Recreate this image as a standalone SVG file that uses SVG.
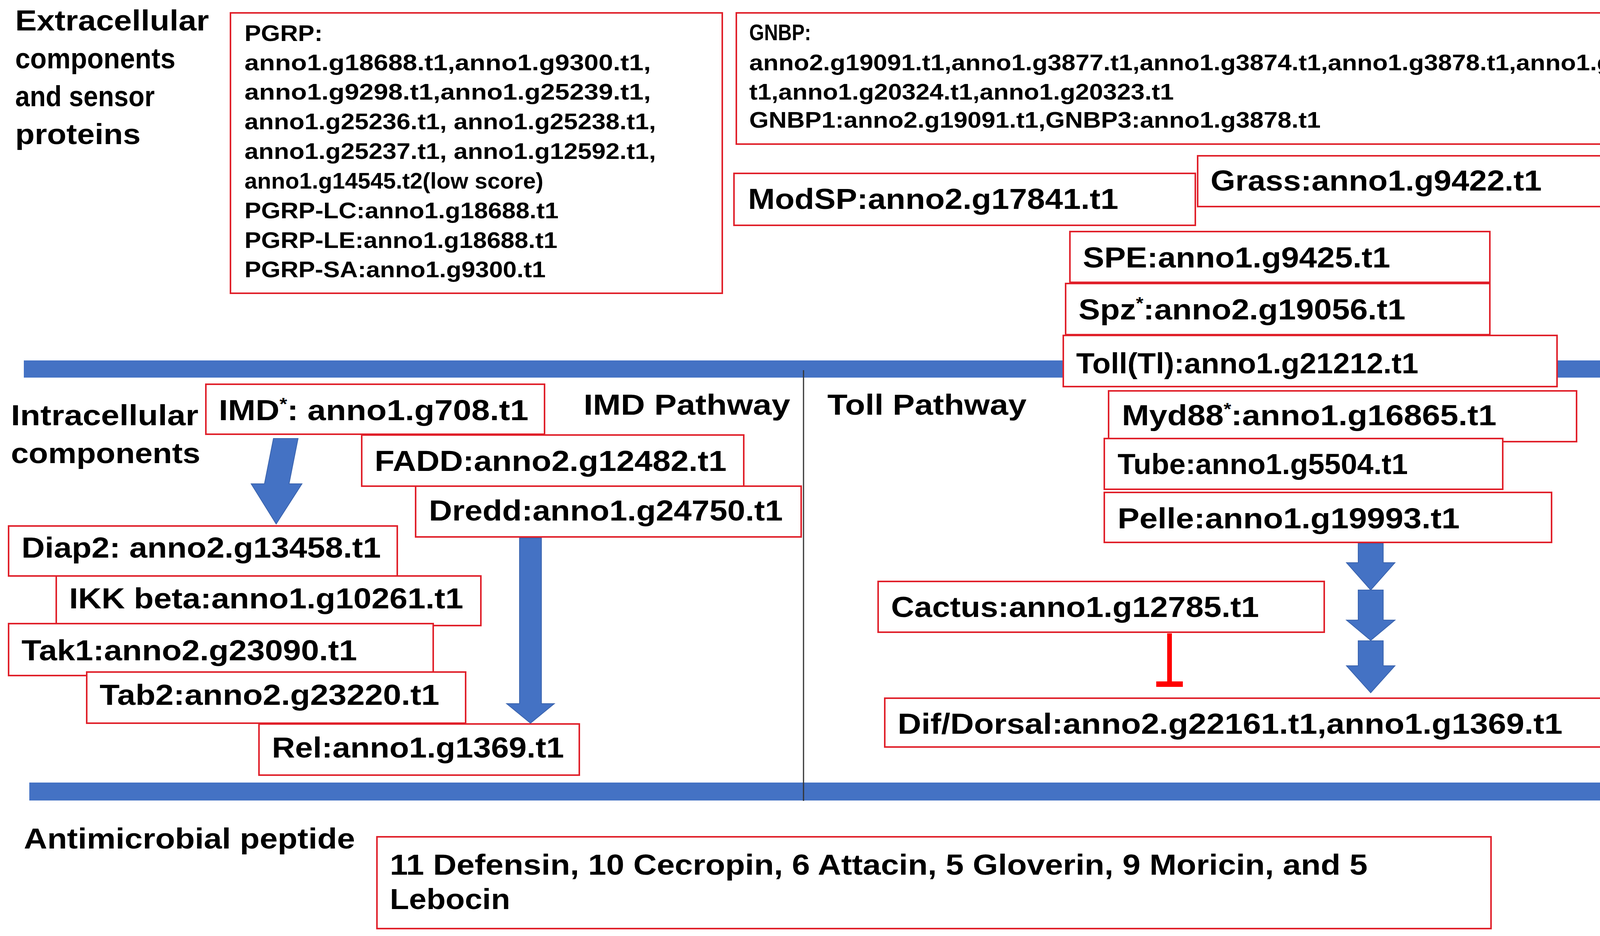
<svg xmlns="http://www.w3.org/2000/svg" width="4346" height="2397" viewBox="0 0 4346 2397">
<style>
text{font-family:"Liberation Sans",Arial,sans-serif;font-weight:700;fill:#000}
.b{font-size:74px}
.s{font-size:58px;font-weight:700}
.box{fill:#fff;stroke:#e0202a;stroke-width:4}
.arr{fill:#4472C4;stroke:#3a63ad;stroke-width:2}
</style>
<rect width="4346" height="2397" fill="#fff"/>
<g id="bars">
<rect x="61" y="923" width="4236" height="44" fill="#4472C4"/>
<rect x="75" y="2004" width="4235" height="46" fill="#4472C4"/>
<line x1="2057" y1="948" x2="2057" y2="2051" stroke="#333" stroke-width="3"/>
</g>
<g id="labels">
<text class="b" x="39" y="78" textLength="496" lengthAdjust="spacingAndGlyphs">Extracellular</text>
<text class="b" x="39" y="175" textLength="410" lengthAdjust="spacingAndGlyphs">components</text>
<text class="b" x="39" y="272" textLength="357" lengthAdjust="spacingAndGlyphs">and sensor</text>
<text class="b" x="39" y="369" textLength="321" lengthAdjust="spacingAndGlyphs">proteins</text>
<text class="b" x="28" y="1089" textLength="480" lengthAdjust="spacingAndGlyphs">Intracellular</text>
<text class="b" x="28" y="1186" textLength="485" lengthAdjust="spacingAndGlyphs">components</text>
<text class="b" x="1494" y="1062" textLength="529" lengthAdjust="spacingAndGlyphs">IMD Pathway</text>
<text class="b" x="2118" y="1062" textLength="510" lengthAdjust="spacingAndGlyphs">Toll Pathway</text>
<text class="b" x="61" y="2173" textLength="848" lengthAdjust="spacingAndGlyphs">Antimicrobial peptide</text>
</g>
<g id="pgrp">
<rect class="box" x="590" y="33" width="1259" height="718"/>
<text class="s" x="626" y="105" textLength="200" lengthAdjust="spacingAndGlyphs">PGRP:</text>
<text class="s" x="626" y="180" textLength="1040" lengthAdjust="spacingAndGlyphs">anno1.g18688.t1,anno1.g9300.t1,</text>
<text class="s" x="626" y="255" textLength="1040" lengthAdjust="spacingAndGlyphs">anno1.g9298.t1,anno1.g25239.t1,</text>
<text class="s" x="626" y="331" textLength="1053" lengthAdjust="spacingAndGlyphs">anno1.g25236.t1, anno1.g25238.t1,</text>
<text class="s" x="626" y="407" textLength="1053" lengthAdjust="spacingAndGlyphs">anno1.g25237.t1, anno1.g12592.t1,</text>
<text class="s" x="626" y="483" textLength="765" lengthAdjust="spacingAndGlyphs">anno1.g14545.t2(low score)</text>
<text class="s" x="626" y="559" textLength="804" lengthAdjust="spacingAndGlyphs">PGRP-LC:anno1.g18688.t1</text>
<text class="s" x="626" y="635" textLength="801" lengthAdjust="spacingAndGlyphs">PGRP-LE:anno1.g18688.t1</text>
<text class="s" x="626" y="710" textLength="771" lengthAdjust="spacingAndGlyphs">PGRP-SA:anno1.g9300.t1</text>
</g>
<g id="gnbp">
<rect class="box" x="1885" y="33" width="2439" height="336"/>
<text class="s" x="1918" y="103" textLength="158" lengthAdjust="spacingAndGlyphs">GNBP:</text>
<text class="s" x="1918" y="180" textLength="2370" lengthAdjust="spacingAndGlyphs">anno2.g19091.t1,anno1.g3877.t1,anno1.g3874.t1,anno1.g3878.t1,anno1.g3876.</text>
<text class="s" x="1918" y="255" textLength="1087" lengthAdjust="spacingAndGlyphs">t1,anno1.g20324.t1,anno1.g20323.t1</text>
<text class="s" x="1918" y="327" textLength="1463" lengthAdjust="spacingAndGlyphs">GNBP1:anno2.g19091.t1,GNBP3:anno1.g3878.t1</text>
</g>
<g id="modsp"><rect class="box" x="1879" y="444" width="1181" height="133"/><text class="b" x="1915" y="535" textLength="948" lengthAdjust="spacingAndGlyphs">ModSP:anno2.g17841.t1</text></g>
<g id="grass"><rect class="box" x="3066" y="399" width="1134" height="130"/><text class="b" x="3099" y="488" textLength="848" lengthAdjust="spacingAndGlyphs">Grass:anno1.g9422.t1</text></g>
<g id="spe"><rect class="box" x="2739" y="593" width="1075" height="130"/><text class="b" x="2772" y="685" textLength="787" lengthAdjust="spacingAndGlyphs">SPE:anno1.g9425.t1</text></g>
<g id="spz"><rect class="box" x="2728" y="726" width="1086" height="131"/><text class="b" x="2761" y="818" textLength="837" lengthAdjust="spacingAndGlyphs">Spz<tspan font-size="44" dy="-26">*</tspan><tspan dy="26">:anno2.g19056.t1</tspan></text></g>
<g id="toll"><rect class="box" x="2722" y="859" width="1264" height="131"/><text class="b" x="2755" y="956" textLength="876" lengthAdjust="spacingAndGlyphs">Toll(Tl):anno1.g21212.t1</text></g>
<g id="imd"><rect class="box" x="527" y="984" width="867" height="128"/><text class="b" x="560" y="1076" textLength="793" lengthAdjust="spacingAndGlyphs">IMD<tspan font-size="44" dy="-26">*</tspan><tspan dy="26">: anno1.g708.t1</tspan></text></g>
<g id="fadd"><rect class="box" x="926" y="1114" width="978" height="131"/><text class="b" x="959" y="1206" textLength="901" lengthAdjust="spacingAndGlyphs">FADD:anno2.g12482.t1</text></g>
<g id="dredd"><rect class="box" x="1064" y="1245" width="987" height="130"/><text class="b" x="1098" y="1333" textLength="906" lengthAdjust="spacingAndGlyphs">Dredd:anno1.g24750.t1</text></g>
<g id="diap2"><rect class="box" x="22" y="1347" width="995" height="128"/><text class="b" x="55" y="1428" textLength="920" lengthAdjust="spacingAndGlyphs">Diap2: anno2.g13458.t1</text></g>
<g id="ikk"><rect class="box" x="144" y="1475" width="1087" height="127"/><text class="b" x="177" y="1558" textLength="1009" lengthAdjust="spacingAndGlyphs">IKK beta:anno1.g10261.t1</text></g>
<g id="tak1"><rect class="box" x="22" y="1597" width="1087" height="133"/><text class="b" x="55" y="1691" textLength="859" lengthAdjust="spacingAndGlyphs">Tak1:anno2.g23090.t1</text></g>
<g id="tab2"><rect class="box" x="222" y="1721" width="970" height="131"/><text class="b" x="255" y="1805" textLength="870" lengthAdjust="spacingAndGlyphs">Tab2:anno2.g23220.t1</text></g>
<g id="rel"><rect class="box" x="663" y="1854" width="820" height="131"/><text class="b" x="696" y="1940" textLength="748" lengthAdjust="spacingAndGlyphs">Rel:anno1.g1369.t1</text></g>
<g id="myd88"><rect class="box" x="2838" y="1001" width="1198" height="130"/><text class="b" x="2872" y="1089" textLength="959" lengthAdjust="spacingAndGlyphs">Myd88<tspan font-size="44" dy="-26">*</tspan><tspan dy="26">:anno1.g16865.t1</tspan></text></g>
<g id="tube"><rect class="box" x="2827" y="1123" width="1020" height="130"/><text class="b" x="2861" y="1214" textLength="743" lengthAdjust="spacingAndGlyphs">Tube:anno1.g5504.t1</text></g>
<g id="pelle"><rect class="box" x="2827" y="1261" width="1145" height="128"/><text class="b" x="2861" y="1353" textLength="876" lengthAdjust="spacingAndGlyphs">Pelle:anno1.g19993.t1</text></g>
<g id="cactus"><rect class="box" x="2248" y="1489" width="1142" height="130"/><text class="b" x="2281" y="1580" textLength="942" lengthAdjust="spacingAndGlyphs">Cactus:anno1.g12785.t1</text></g>
<g id="dif"><rect class="box" x="2265" y="1788" width="2029" height="125"/><text class="b" x="2298" y="1879" textLength="1702" lengthAdjust="spacingAndGlyphs">Dif/Dorsal:anno2.g22161.t1,anno1.g1369.t1</text></g>
<g id="amp"><rect class="box" x="965" y="2143" width="2852" height="235"/>
<text class="b" x="998" y="2240" textLength="2503" lengthAdjust="spacingAndGlyphs">11 Defensin, 10 Cecropin, 6 Attacin, 5 Gloverin, 9 Moricin, and 5</text>
<text class="b" x="998" y="2328" textLength="308" lengthAdjust="spacingAndGlyphs">Lebocin</text></g>
<g id="connectors">
<polygon class="arr" points="700,1123 763,1123 740,1239 773,1239 707,1342 643,1239 677,1239"/>
<polygon class="arr" points="1330,1378 1386,1378 1386,1802 1419,1802 1358,1852 1297,1802 1330,1802"/>
<polygon class="arr" points="3477,1392 3541,1392 3541,1441 3571,1441 3509,1511 3447,1441 3477,1441"/>
<polygon class="arr" points="3477,1511 3541,1511 3541,1588 3571,1588 3509,1640 3447,1588 3477,1588"/>
<polygon class="arr" points="3477,1641 3541,1641 3541,1705 3571,1705 3509,1774 3447,1705 3477,1705"/>
<line x1="2994" y1="1622" x2="2994" y2="1752" stroke="#ff0000" stroke-width="12"/>
<line x1="2960" y1="1752" x2="3028" y2="1752" stroke="#ff0000" stroke-width="14"/>
</g>
</svg>
